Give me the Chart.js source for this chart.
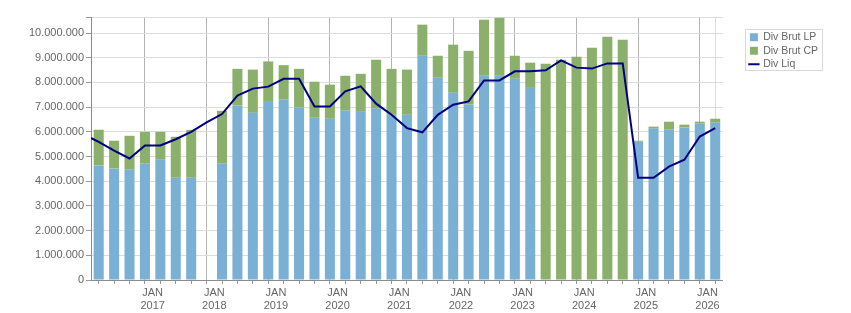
<!DOCTYPE html>
<html>
<head>
<meta charset="utf-8">
<script src="https://cdn.jsdelivr.net/npm/chart.js@4.4.1/dist/chart.umd.min.js"></script>
<style>
  html, body { margin: 0; padding: 0; background: #fff; }
</style>
</head>
<body>
<canvas id="divChart" width="851" height="313"></canvas>
<script>
// one bar per quarter, JAN 2016 -> JAN 2026
const quarters = [
  '2016 T1', '2016 T2', '2016 T3', '2016 T4',
  '2017 T1', '2017 T2', '2017 T3', '2017 T4',
  '2018 T1', '2018 T2', '2018 T3', '2018 T4',
  '2019 T1', '2019 T2', '2019 T3', '2019 T4',
  '2020 T1', '2020 T2', '2020 T3', '2020 T4',
  '2021 T1', '2021 T2', '2021 T3', '2021 T4',
  '2022 T1', '2022 T2', '2022 T3', '2022 T4',
  '2023 T1', '2023 T2', '2023 T3', '2023 T4',
  '2024 T1', '2024 T2', '2024 T3', '2024 T4',
  '2025 T1', '2025 T2', '2025 T3', '2025 T4',
  '2026 T1'
];

const divBrutLP = [
  4640000, 4510000, 4470000, 4710000, 4870000, 4140000, 4140000, null,
  4710000, 7060000, 6770000, 7250000, 7300000, 6980000, 6570000, 6530000,
  6860000, 6810000, 6940000, 6690000, 6690000, 9080000, 8190000, 7580000,
  7100000, 8270000, 8270000, 8150000, 7780000, null, null, null,
  null, null, null, 5600000, 6130000, 6090000, 6170000, 6330000,
  6370000
];

const divBrutCP = [
  1445000, 1130000, 1370000, 1290000, 1130000, 1660000, 1940000, null,
  2140000, 1490000, 1750000, 1600000, 1400000, 1570000, 1460000, 1380000,
  1410000, 1540000, 1980000, 1860000, 1830000, 1260000, 890000, 1950000,
  2180000, 2270000, 2350000, 930000, 1020000, 8760000, 8920000, 9040000,
  9400000, 9850000, 9730000, 40000, 80000, 320000, 120000, 80000,
  160000
];

// net dividend, the line starts at the left edge of the axis
const divLiqStart = 5750000;
const divLiq = [
  5590000, 5240000, 4920000, 5450000, 5450000, 5700000, 6000000, 6380000,
  6720000, 7470000, 7750000, 7830000, 8150000, 8150000, 7030000, 7030000,
  7640000, 7840000, 7140000, 6690000, 6150000, 5980000, 6690000, 7100000,
  7230000, 8080000, 8080000, 8450000, 8450000, 8490000, 8890000, 8600000,
  8560000, 8770000, 8770000, 4140000, 4140000, 4590000, 4870000, 5810000,
  6150000
];

const yTicks = [0, 1000000, 2000000, 3000000, 4000000, 5000000, 6000000, 7000000, 8000000, 9000000, 10000000];
const yMax = 10650000;
const monthLabel = 'JAN';

function fmt(v) {
  return String(v).replace(/\B(?=(\d{3})+(?!\d))/g, '.');
}

// frame around the legend
const legendBorder = {
  id: 'legendBorder',
  afterDraw(chart) {
    const boxes = chart.legend && chart.legend.legendHitBoxes;
    if (!boxes || !boxes.length) return;
    const first = boxes[0];
    const last = boxes[boxes.length - 1];
    const ctx = chart.ctx;
    ctx.save();
    ctx.strokeStyle = '#d9d9d9';
    ctx.lineWidth = 1;
    ctx.strokeRect(Math.round(first.left) - 4.5, Math.round(first.top) - 2.5, 77,
      Math.round(last.top + last.height - first.top) + 3);
    ctx.restore();
  }
};

Chart.defaults.font.family = "'Liberation Sans', Arial, sans-serif";
Chart.defaults.font.size = 11;
Chart.defaults.color = '#666';

const ctx = document.getElementById('divChart').getContext('2d');
new Chart(ctx, {
  type: 'bar',
  data: {
    datasets: [{
      label: 'Div Brut LP',
      data: divBrutLP.map((v, i) => ({ x: i + 0.5, y: v })),
      backgroundColor: '#79b0d3',
      pointStyle: 'rect',
      stack: 'brut',
      categoryPercentage: 1,
      barPercentage: 0.65
    }, {
      label: 'Div Brut CP',
      data: divBrutCP.map((v, i) => ({ x: i + 0.5, y: v })),
      backgroundColor: '#8ab06b',
      pointStyle: 'rect',
      stack: 'brut',
      categoryPercentage: 1,
      barPercentage: 0.65
    }, {
      type: 'line',
      label: 'Div Liq',
      data: [{ x: 0, y: divLiqStart }].concat(divLiq.map((v, i) => ({ x: i + 0.5, y: v }))),
      borderColor: '#000080',
      backgroundColor: '#000080',
      borderWidth: 2,
      pointRadius: 0,
      pointStyle: 'line',
      tension: 0,
      stack: 'liq',
      order: -1
    }]
  },
  options: {
    responsive: false,
    animation: false,
    devicePixelRatio: 1,
    layout: { padding: { left: 0, right: 23, top: 17, bottom: 0 } },
    scales: {
      x: {
        type: 'linear',
        stacked: true,
        min: 0,
        max: quarters.length,
        offset: false,
        afterBuildTicks: (scale) => {
          scale.ticks = quarters.map((q, i) => ({ value: i })).concat([{ value: quarters.length }]);
        },
        afterFit: (scale) => { scale.height = 33; },
        grid: {
          color: (c) => {
            const v = c.tick ? c.tick.value : -1;
            if (v === quarters.length) return '#dcdcdc';
            if (v > 0 && v % 4 === 0) return '#b4b4b4';
            return 'rgba(0,0,0,0)';
          },
          tickColor: '#9a9a9a',
          tickLength: 4
        },
        border: { color: '#8c8c8c' },
        ticks: {
          autoSkip: false,
          maxRotation: 0,
          padding: 3,
          color: '#666',
          font: { size: 11, lineHeight: 1.15 },
          callback: (value) => {
            const q = quarters[value];
            if (value > 0 && q && q.endsWith('T1')) return [monthLabel, q.slice(0, 4)];
            return '';
          }
        }
      },
      y: {
        stacked: true,
        min: 0,
        max: yMax,
        afterBuildTicks: (scale) => {
          scale.ticks = yTicks.concat([yMax]).map(v => ({ value: v }));
        },
        afterFit: (scale) => { scale.width = 91; },
        grid: {
          color: '#dcdcdc',
          tickColor: '#9a9a9a',
          tickLength: 5
        },
        border: { color: '#8c8c8c' },
        ticks: {
          padding: 2,
          color: '#666',
          callback: (value) => value === yMax ? '' : fmt(value)
        }
      },
      // empty box that keeps a gap between the plot and the legend
      spacer: {
        type: 'linear',
        position: 'right',
        display: true,
        grid: { display: false },
        border: { display: false },
        ticks: { display: false },
        afterFit: (scale) => { scale.width = 24; }
      }
    },
    plugins: {
      tooltip: { enabled: false },
      legend: {
        position: 'right',
        align: 'start',
        title: { display: true, text: '', padding: 0, font: { size: 10, lineHeight: 1.2 } },
        labels: {
          usePointStyle: true,
          boxWidth: 8,
          boxHeight: 8,
          padding: 3,
          color: '#666',
          font: { size: 10.5 },
          sort: (a, b) => a.datasetIndex - b.datasetIndex
        }
      }
    }
  },
  plugins: [legendBorder]
});
</script>
</body>
</html>
